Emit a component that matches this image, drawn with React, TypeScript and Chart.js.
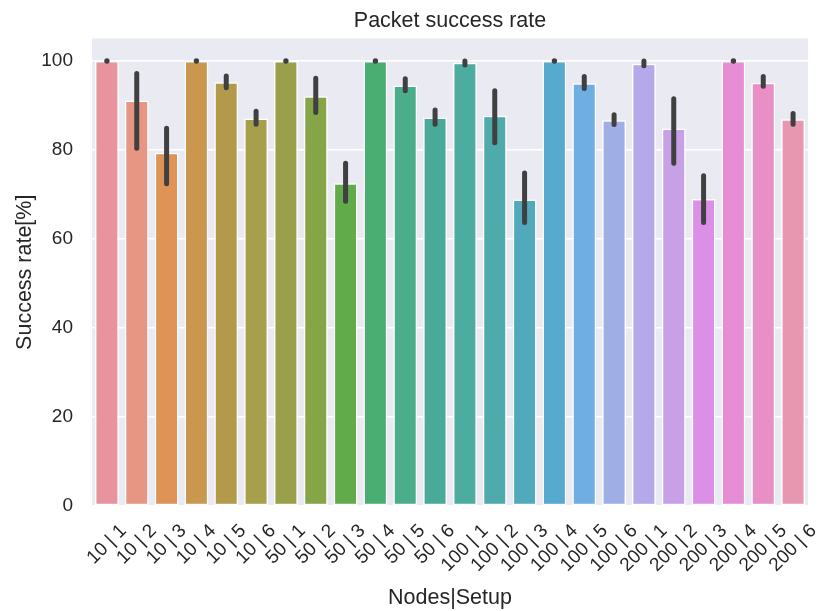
import React, { useEffect, useRef } from "react";
import { Chart, registerables } from "chart.js";

Chart.register(...registerables);

const categories = [
  "10 | 1", "10 | 2", "10 | 3", "10 | 4", "10 | 5", "10 | 6",
  "50 | 1", "50 | 2", "50 | 3", "50 | 4", "50 | 5", "50 | 6",
  "100 | 1", "100 | 2", "100 | 3", "100 | 4", "100 | 5", "100 | 6",
  "200 | 1", "200 | 2", "200 | 3", "200 | 4", "200 | 5", "200 | 6",
];

const successRate = [
  100, 91.1, 79.4, 100, 95.2, 87.1,
  100, 92.1, 72.5, 100, 94.5, 87.3,
  99.6, 87.7, 68.9, 100, 95.0, 86.7,
  99.4, 84.8, 69.0, 100, 95.1, 86.9,
];

const ciLow = [
  100, 80.4, 72.4, 100, 94.0, 85.8,
  100, 88.4, 68.5, 100, 93.3, 85.8,
  99.1, 81.6, 63.7, 100, 93.8, 85.7,
  98.9, 77.0, 63.7, 100, 94.3, 85.8,
];

const ciHigh = [
  100, 97.2, 84.9, 100, 96.6, 88.7,
  100, 96.1, 77.0, 100, 96.0, 89.0,
  100, 93.3, 74.8, 100, 96.5, 87.9,
  100, 91.5, 74.2, 100, 96.5, 88.2,
];

const barColors = [
  "#e8949f", "#e89684", "#e09357", "#c9984e", "#b39a4b", "#a79f4b",
  "#9aa04a", "#85a547", "#62ab4b", "#4aae72", "#4aae8b", "#4aaa9a",
  "#4daca0", "#4eaaab", "#50aabc", "#55aacd", "#6eaee2", "#a0aee6",
  "#b5a9ea", "#c8a0e6", "#dc8fe6", "#e78dd3", "#e890c5", "#e897b1",
];

const yTicks = [0, 20, 40, 60, 80, 100];

const titleText = "Packet success rate";
const xTitle = "Nodes|Setup";
const yTitle = "Success rate[%]";

const FONT = '"Liberation Sans", Arial, sans-serif';
const TEXT_COLOR = "#262626";

const bgPlugin = {
  id: "bgPlugin",
  beforeDraw(chart: any) {
    const { ctx, chartArea } = chart;
    const { left, top, right, bottom } = chartArea;
    ctx.save();
    ctx.fillStyle = "#eaeaf2";
    ctx.fillRect(left, top, right - left, bottom - top);
    ctx.restore();
  },
};

const errorBarPlugin = {
  id: "errorBarPlugin",
  afterDatasetsDraw(chart: any) {
    const { ctx } = chart;
    const xs = chart.scales.x;
    const ys = chart.scales.y;
    ctx.save();
    ctx.strokeStyle = "#404040";
    ctx.fillStyle = "#404040";
    ctx.lineWidth = 5;
    ctx.lineCap = "round";
    for (let i = 0; i < categories.length; i++) {
      const x = xs.getPixelForValue(i);
      const y1 = ys.getPixelForValue(ciLow[i]);
      const y2 = ys.getPixelForValue(ciHigh[i]);
      if (Math.abs(y1 - y2) < 0.5) {
        ctx.beginPath();
        ctx.arc(x, y1, 2.7, 0, Math.PI * 2);
        ctx.fill();
      } else {
        ctx.beginPath();
        ctx.moveTo(x, y1);
        ctx.lineTo(x, y2);
        ctx.stroke();
      }
    }
    ctx.restore();
  },
};

const textPlugin = {
  id: "textPlugin",
  afterDraw(chart: any) {
    const { ctx, chartArea } = chart;
    const xs = chart.scales.x;
    const cx = (chartArea.left + chartArea.right) / 2;
    const cy = (chartArea.top + chartArea.bottom) / 2;
    ctx.save();
    ctx.fillStyle = TEXT_COLOR;

    // x tick labels rotated 45deg, centered on tick
    ctx.font = `19px ${FONT}`;
    const h = 21.9;
    const topY = chartArea.bottom + 14;
    for (let i = 0; i < categories.length; i++) {
      const label = categories[i];
      const x = xs.getPixelForValue(i);
      const w = ctx.measureText(label).width;
      const centerY = topY + (w + h) * 0.35355;
      ctx.save();
      ctx.translate(x, centerY);
      ctx.rotate(-Math.PI / 4);
      ctx.textAlign = "center";
      ctx.textBaseline = "middle";
      ctx.fillText(label, 0, 0);
      ctx.restore();
    }

    // title
    ctx.font = `21.5px ${FONT}`;
    ctx.textAlign = "center";
    ctx.textBaseline = "alphabetic";
    ctx.fillText(titleText, cx, 26.5);

    // x axis title
    ctx.fillText(xTitle, cx, 604);

    // y axis title
    ctx.save();
    ctx.translate(31, cy);
    ctx.rotate(-Math.PI / 2);
    ctx.textAlign = "center";
    ctx.textBaseline = "alphabetic";
    ctx.fillText(yTitle, 0, 0);
    ctx.restore();

    ctx.restore();
  },
};

export default function App() {
  const canvasRef = useRef<HTMLCanvasElement | null>(null);

  useEffect(() => {
    const canvas = canvasRef.current;
    if (!canvas) return;
    const chart = new Chart(canvas, {
      type: "bar",
      data: {
        labels: categories,
        datasets: [
          {
            data: successRate,
            backgroundColor: barColors,
            borderColor: "#ffffff",
            borderWidth: 1.5,
            borderSkipped: false,
            barPercentage: 0.8,
            categoryPercentage: 1,
          },
        ],
      },
      options: {
        responsive: false,
        animation: false,
        devicePixelRatio: 1,
        layout: { padding: { top: 38.5, right: 13, left: 0, bottom: 0 } },
        plugins: {
          legend: { display: false },
          title: { display: false },
          tooltip: { enabled: false },
        },
        scales: {
          x: {
            type: "category",
            grid: { display: false },
            border: { display: false },
            ticks: { display: false },
            afterFit: (scale: any) => {
              scale.height = 105;
            },
          },
          y: {
            type: "linear",
            min: 0,
            max: 105.05,
            grid: { color: "#ffffff", lineWidth: 1.6, drawTicks: false },
            border: { display: false },
            ticks: {
              color: TEXT_COLOR,
              font: { size: 19, family: FONT },
              padding: 19,
            },
            afterBuildTicks: (scale: any) => {
              scale.ticks = yTicks.map((v) => ({ value: v }));
            },
            afterFit: (scale: any) => {
              scale.width = 92;
            },
          },
        },
      },
      plugins: [bgPlugin, errorBarPlugin, textPlugin],
    } as any);
    return () => chart.destroy();
  }, []);

  return (
    <canvas
      ref={canvasRef}
      width={821}
      height={611}
      style={{ position: "absolute", left: 0, top: 0, width: 821, height: 611 }}
    />
  );
}
